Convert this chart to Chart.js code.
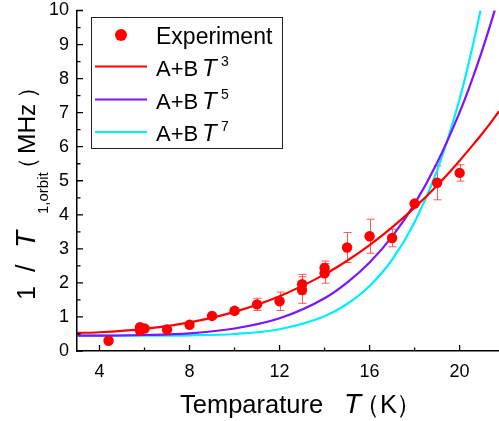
<!DOCTYPE html>
<html><head><meta charset="utf-8">
<script src="https://cdn.jsdelivr.net/npm/chart.js@4"></script>
<style>html,body{margin:0;padding:0;background:#fff;}canvas{display:block;}</style>
</head><body>
<canvas id="c" width="499" height="421"></canvas>
<script>
// ---- data ----
const tempK   = [4.4, 5.8, 5.8, 6.0, 7, 8, 9, 10, 11, 12, 13, 13, 14, 14, 15, 16, 17, 18, 19, 20];
const rate    = [0.30, 0.70, 0.60, 0.66, 0.63, 0.77, 1.03, 1.18, 1.37, 1.46, 1.96, 1.79, 2.44, 2.28, 3.04, 3.37, 3.32, 4.33, 4.94, 5.23];
const rateErr = [0.05, 0.06, 0.06, 0.06, 0.06, 0.07, 0.07, 0.08, 0.18, 0.27, 0.29, 0.39, 0.20, 0.29, 0.44, 0.50, 0.26, 0.05, 0.50, 0.24];

const fitT  = [3, 4, 6, 8, 10, 12, 14, 15, 16, 17, 18, 19, 20, 20.5, 21, 21.5, 21.75];
const fitT3 = [0.53, 0.55, 0.65, 0.84, 1.15, 1.61, 2.25, 2.65, 3.11, 3.63, 4.21, 4.86, 5.59, 5.98, 6.38, 6.81, 7.04];
const fitT5 = [0.45, 0.45, 0.47, 0.52, 0.66, 0.96, 1.55, 2.01, 2.60, 3.36, 4.32, 5.53, 7.01, 7.87, 8.82, 9.87, 10.43];
const fitT7 = [0.45, 0.45, 0.45, 0.46, 0.50, 0.64, 1.02, 1.38, 1.91, 2.68, 3.78, 5.30, 7.40, 8.73, 10.23, 12.0, 12.98];

const xTicks = [4, 8, 12, 16, 20];
const xMinorTicks = [6, 10, 14, 18];
const yTicks = [0, 1, 2, 3, 4, 5, 6, 7, 8, 9, 10];
const yMinorTicks = [0.5, 1.5, 2.5, 3.5, 4.5, 5.5, 6.5, 7.5, 8.5, 9.5];

const legendExperiment = 'Experiment';
const legendFitBase = 'A+B';
const legendFitVar = 'T';
const legendExponents = ['3', '5', '7'];

const COLORS = { exp: '#ff0000', err: 'rgba(255,50,50,0.8)', t3: '#ff0000', t5: '#7b14ff', t7: '#00eeff' };
const FONT = '"Liberation Sans", Arial, sans-serif';

const pts = (xs, ys) => xs.map((v, i) => ({ x: v, y: ys[i] }));

// ---- plugins ----
const errorBars = {
  id: 'errorBars',
  beforeDatasetsDraw(chart) {
    const { ctx, scales: { x, y } } = chart;
    ctx.save();
    ctx.strokeStyle = COLORS.err; ctx.lineWidth = 1;
    tempK.forEach((t, i) => {
      const px = Math.round(x.getPixelForValue(t)) + 0.5;
      const y1 = y.getPixelForValue(rate[i] - rateErr[i]);
      const y2 = y.getPixelForValue(rate[i] + rateErr[i]);
      ctx.beginPath();
      ctx.moveTo(px, y1); ctx.lineTo(px, y2);
      ctx.moveTo(px - 4, y1); ctx.lineTo(px + 4, y1);
      ctx.moveTo(px - 4, y2); ctx.lineTo(px + 4, y2);
      ctx.stroke();
    });
    ctx.restore();
  }
};

const innerTicks = {
  id: 'innerTicks',
  afterDraw(chart) {
    const { ctx, scales: { x, y }, chartArea: a } = chart;
    ctx.save();
    ctx.strokeStyle = '#000'; ctx.lineWidth = 1.3;
    ctx.beginPath();
    xTicks.forEach(v => { const p = x.getPixelForValue(v); ctx.moveTo(p, a.bottom); ctx.lineTo(p, a.bottom - 6); });
    xMinorTicks.forEach(v => { const p = x.getPixelForValue(v); ctx.moveTo(p, a.bottom); ctx.lineTo(p, a.bottom - 3.5); });
    yTicks.forEach(v => { const p = y.getPixelForValue(v); ctx.moveTo(a.left, p); ctx.lineTo(a.left + 6, p); });
    yMinorTicks.forEach(v => { const p = y.getPixelForValue(v); ctx.moveTo(a.left, p); ctx.lineTo(a.left + 3.5, p); });
    ctx.stroke();
    ctx.restore();
  }
};

const titlesAndLegend = {
  id: 'titlesAndLegend',
  afterDraw(chart) {
    const ctx = chart.ctx;
    ctx.save();
    ctx.fillStyle = '#000';
    ctx.textBaseline = 'alphabetic';
    ctx.textAlign = 'left';
    // x title: Temparature T（K）
    ctx.font = '25.5px ' + FONT;
    ctx.fillText('Temparature', 180, 413);
    ctx.font = 'italic 28px ' + FONT;
    ctx.fillText('T', 344, 413);
    ctx.font = '25.5px ' + FONT;
    ctx.fillText('（', 354, 413);
    ctx.fillText('K', 380, 413);
    ctx.fillText('）', 396, 413);

    // y title (rotated): 1 / T_{1,orbit}（MHz）
    // each piece: [text, font, start (page y, text runs upward), baseline shift]
    const segs = [
      ['1', '25px ' + FONT, 300, 0],
      ['/', '27px ' + FONT, 272, 0],
      ['T', 'italic 28px ' + FONT, 248, 0],
      ['1,orbit', '15px ' + FONT, 214, 13],
      ['（', '24px ' + FONT, 181, 0],
      ['MHz', '24.5px ' + FONT, 154, 0],
      ['）', '24px ' + FONT, 99, 0]
    ];
    ctx.translate(35, 196);
    ctx.rotate(-Math.PI / 2);
    segs.forEach(s => { ctx.font = s[1]; ctx.fillText(s[0], 196 - s[2], s[3]); });
    ctx.setTransform(1, 0, 0, 1, 0, 0);

    // legend
    ctx.fillStyle = '#fff';
    ctx.fillRect(91.5, 17.5, 191, 131);
    ctx.strokeStyle = '#222'; ctx.lineWidth = 1;
    ctx.strokeRect(91.5, 17.5, 191, 131);
    ctx.fillStyle = COLORS.exp;
    ctx.beginPath(); ctx.arc(121, 35, 6, 0, Math.PI * 2); ctx.fill();
    ctx.fillStyle = '#000';
    ctx.font = '23px ' + FONT;
    ctx.fillText(legendExperiment, 156, 44);
    const lineCols = [COLORS.t3, COLORS.t5, COLORS.t7];
    const rowsY = [66.5, 99.5, 132];
    legendExponents.forEach((e, i) => {
      ctx.strokeStyle = lineCols[i]; ctx.lineWidth = 2.2;
      ctx.beginPath(); ctx.moveTo(95, rowsY[i]); ctx.lineTo(147, rowsY[i]); ctx.stroke();
      const base = rowsY[i] + 9;
      ctx.fillStyle = '#000';
      ctx.font = '22px ' + FONT;
      ctx.fillText(legendFitBase, 156, base);
      ctx.font = 'italic 24px ' + FONT;
      ctx.fillText(legendFitVar, 202, base);
      ctx.font = '14px ' + FONT;
      ctx.fillText(e, 221, base - 10);
    });
    ctx.restore();
  }
};

new Chart(document.getElementById('c'), {
  type: 'scatter',
  data: {
    datasets: [
      { label: 'Experiment', data: pts(tempK, rate), order: 0, showLine: false,
        pointRadius: 5.2, pointHoverRadius: 5.2, backgroundColor: COLORS.exp, borderWidth: 0 },
      { label: 'T3', data: pts(fitT, fitT3), order: 1, showLine: true, pointRadius: 0,
        borderColor: COLORS.t3, borderWidth: 2.2, cubicInterpolationMode: 'monotone' },
      { label: 'T5', data: pts(fitT, fitT5), order: 2, showLine: true, pointRadius: 0,
        borderColor: COLORS.t5, borderWidth: 2.2, cubicInterpolationMode: 'monotone' },
      { label: 'T7', data: pts(fitT, fitT7), order: 3, showLine: true, pointRadius: 0,
        borderColor: COLORS.t7, borderWidth: 2.2, cubicInterpolationMode: 'monotone' }
    ]
  },
  options: {
    responsive: false,
    animation: false,
    devicePixelRatio: 1,
    layout: { autoPadding: false, padding: { left: 0, right: 0, top: 10.5, bottom: 0 } },
    plugins: { legend: { display: false }, tooltip: { enabled: false } },
    scales: {
      x: {
        type: 'linear', min: 3, max: 21.75,
        afterBuildTicks: s => { s.ticks = xTicks.map(v => ({ value: v })); },
        afterFit: s => { s.height = 70; s.paddingLeft = 0; s.paddingRight = 0; },
        grid: { display: false, drawTicks: false },
        border: { display: true, color: '#000', width: 1.5 },
        ticks: { color: '#000', font: { family: FONT, size: 18 }, padding: 10, maxRotation: 0 }
      },
      y: {
        type: 'linear', min: 0, max: 10,
        afterBuildTicks: s => { s.ticks = yTicks.map(v => ({ value: v })); },
        afterFit: s => { s.width = 77; s.paddingTop = 0; s.paddingBottom = 0; },
        grid: { display: false, drawTicks: false },
        border: { display: true, color: '#000', width: 1.5 },
        ticks: { color: '#000', font: { family: FONT, size: 18 }, padding: 8 }
      }
    }
  },
  plugins: [errorBars, innerTicks, titlesAndLegend]
});
</script>
</body></html>
